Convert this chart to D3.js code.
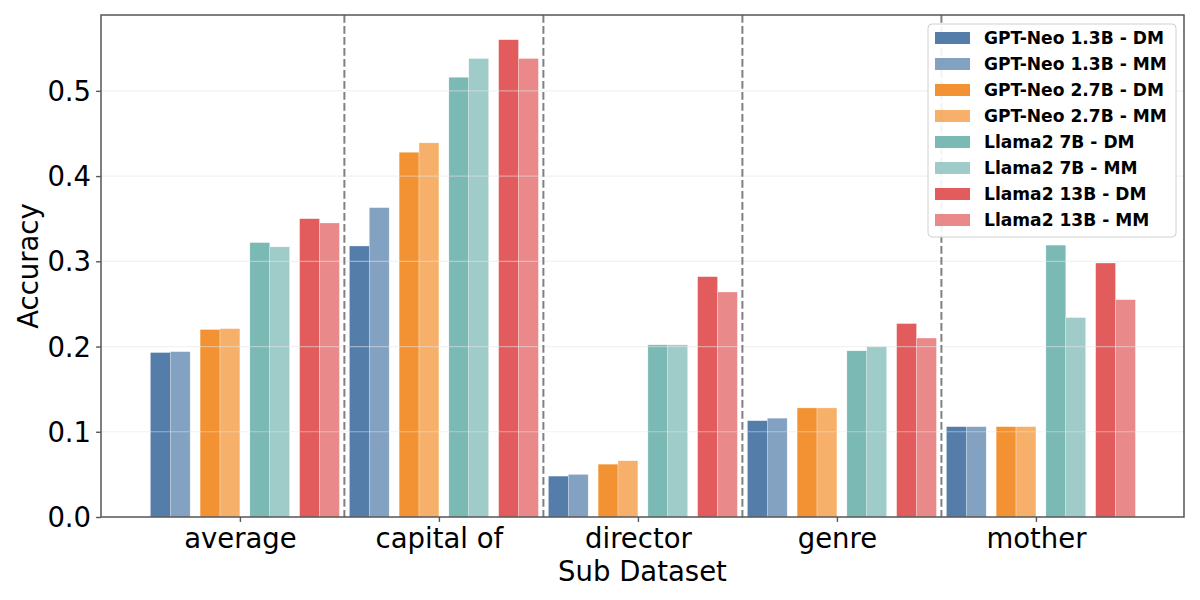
<!DOCTYPE html>
<meta charset="utf-8">
<style>
 body { margin: 0; background: #fff; }
 text { font-family: "DejaVu Sans", sans-serif; fill: #000; }
 .tick text { font-size: 27.5px; }
 .legend text { font-size: 17.1px; font-weight: bold; }
</style>
<body>
<div id="chart"></div>
<script src="https://cdn.jsdelivr.net/npm/d3@7/dist/d3.min.js"></script>
<script>
var categories = ["average", "capital of", "director", "genre", "mother"];
var seriesNames = ["GPT-Neo 1.3B - DM", "GPT-Neo 1.3B - MM", "GPT-Neo 2.7B - DM", "GPT-Neo 2.7B - MM",
                   "Llama2 7B - DM", "Llama2 7B - MM", "Llama2 13B - DM", "Llama2 13B - MM"];
var neo13DM = [0.193, 0.318, 0.048, 0.113, 0.106];
var neo13MM = [0.194, 0.363, 0.050, 0.116, 0.106];
var neo27DM = [0.220, 0.428, 0.062, 0.128, 0.106];
var neo27MM = [0.221, 0.439, 0.066, 0.128, 0.106];
var llama7DM = [0.322, 0.516, 0.202, 0.195, 0.319];
var llama7MM = [0.317, 0.538, 0.202, 0.200, 0.234];
var llama13DM = [0.350, 0.560, 0.282, 0.227, 0.298];
var llama13MM = [0.345, 0.538, 0.264, 0.210, 0.255];
var yTicks = [0.0, 0.1, 0.2, 0.3, 0.4, 0.5];
var baseColors = ["#4e79a7", "#4e79a7", "#f28e2b", "#f28e2b", "#76b7b2", "#76b7b2", "#e15759", "#e15759"];

(function(){
  var series = [neo13DM, neo13MM, neo27DM, neo27MM, llama7DM, llama7MM, llama13DM, llama13MM];
  var width = 1200, height = 600;
  var margin = {left: 101, right: 16, top: 15, bottom: 83};
  var iw = width - margin.left - margin.right;
  var ih = height - margin.top - margin.bottom;

  var svg = d3.select("#chart").append("svg")
      .attr("width", width).attr("height", height);
  var g = svg.append("g").attr("transform", "translate(" + margin.left + "," + margin.top + ")");

  var x = d3.scaleLinear().domain([-0.698, 4.744]).range([0, iw]);
  var y = d3.scaleLinear().domain([0, 0.589]).range([ih, 0]);

  var barW = 0.1;
  function offset(j) { return -0.45 + 0.25 * Math.floor(j / 2) + 0.1 * (j % 2); }

  // bars
  series.forEach(function(vals, j) {
    g.append("g").selectAll("rect").data(vals).enter().append("rect")
      .attr("x", function(d, i) { return x(i + offset(j)); })
      .attr("width", x(barW) - x(0))
      .attr("y", function(d) { return y(d); })
      .attr("height", function(d) { return y(0) - y(d); })
      .attr("fill", baseColors[j])
      .attr("fill-opacity", j % 2 ? 0.7 : 0.97)
      .attr("stroke", "#fff").attr("stroke-width", 0.5).attr("stroke-opacity", 0.6);
  });

  // faint grid
  g.append("g").selectAll("line").data(yTicks.slice(1)).enter().append("line")
    .attr("x1", 0).attr("x2", iw)
    .attr("y1", function(d) { return y(d); }).attr("y2", function(d) { return y(d); })
    .attr("stroke", "#e6e6e6").attr("stroke-opacity", 0.5).attr("stroke-width", 1.2);

  // separators
  g.append("g").selectAll("line").data(categories.slice(1)).enter().append("line")
    .attr("x1", function(d, i) { return x(i + 0.525); })
    .attr("x2", function(d, i) { return x(i + 0.525); })
    .attr("y1", 0).attr("y2", ih)
    .attr("stroke", "#808080").attr("stroke-width", 2).attr("stroke-dasharray", "7.7,3.3");

  // axes
  var yAxis = g.append("g").call(d3.axisLeft(y).tickValues(yTicks).tickFormat(d3.format(".1f"))
      .tickSize(4.9).tickPadding(5));
  var xAxis = g.append("g").attr("transform", "translate(0," + ih + ")")
      .call(d3.axisBottom(x).tickValues(d3.range(categories.length))
        .tickFormat(function(i) { return categories[i]; }).tickSize(4.9).tickPadding(5));
  [xAxis, yAxis].forEach(function(a) {
    a.select(".domain").remove();
    a.selectAll(".tick line").attr("stroke", "#555").attr("stroke-width", 1.4);
    a.selectAll(".tick text").attr("font-family", "DejaVu Sans").attr("font-size", null);
  });
  yAxis.selectAll(".tick text").attr("dy", "0.35em");
  xAxis.selectAll(".tick text").attr("dy", "0.78em");

  g.append("rect").attr("width", iw).attr("height", ih)
    .attr("fill", "none").attr("stroke", "#555").attr("stroke-width", 1.5);

  // axis labels
  svg.append("text").attr("x", margin.left + iw / 2).attr("y", 581)
    .attr("text-anchor", "middle").style("font-size", "27.5px").text("Sub Dataset");
  svg.append("text").attr("transform", "translate(38," + (margin.top + ih / 2) + ") rotate(-90)")
    .attr("text-anchor", "middle").style("font-size", "27.5px").text("Accuracy");

  // legend
  var lg = svg.append("g").attr("class", "legend").attr("transform", "translate(928,24)");
  lg.append("rect").attr("width", 248).attr("height", 213).attr("rx", 4)
    .attr("fill", "#fff").attr("fill-opacity", 0.9).attr("stroke", "#d0d0d0").attr("stroke-width", 1);
  var items = lg.selectAll("g.item").data(seriesNames).enter().append("g")
    .attr("class", "item")
    .attr("transform", function(d, i) { return "translate(0," + (14 + i * 26) + ")"; });
  items.append("rect").attr("x", 7).attr("y", -6).attr("width", 35).attr("height", 12)
    .attr("fill", function(d, i) { return baseColors[i]; })
    .attr("fill-opacity", function(d, i) { return i % 2 ? 0.7 : 0.97; });
  items.append("text").attr("x", 56).attr("dy", "0.36em").text(function(d) { return d; });
})();
</script>
</body>
